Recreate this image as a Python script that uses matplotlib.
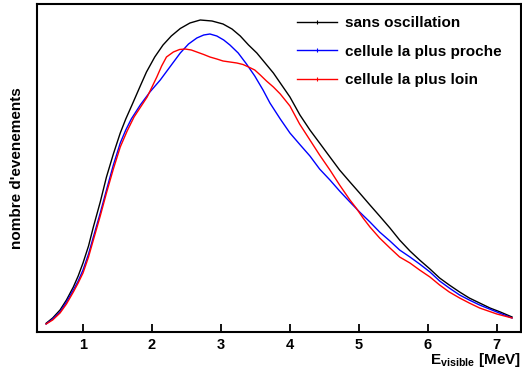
import matplotlib
matplotlib.use("Agg")
import matplotlib.pyplot as plt
from matplotlib.lines import Line2D

plt.rcParams["font.family"] = ["Liberation Sans", "DejaVu Sans"]
plt.rcParams["font.weight"] = "bold"
plt.rcParams["mathtext.fontset"] = "custom"
plt.rcParams["mathtext.bf"] = "Liberation Sans:bold"
plt.rcParams["mathtext.rm"] = "Liberation Sans:bold"

# visible energy spectra (arbitrary units)
e_sans = [0.465, 0.56, 0.667, 0.76, 0.86, 0.93, 1.0, 1.08, 1.15, 1.25, 1.34, 1.44,
          1.54, 1.62, 1.71, 1.83, 1.92, 2.04, 2.16, 2.28, 2.41, 2.55, 2.70, 2.87,
          3.03, 3.16, 3.28, 3.40, 3.52, 3.64, 3.76, 3.88, 4.0, 4.145, 4.29, 4.43,
          4.58, 4.72, 4.87, 5.01, 5.16, 5.3, 5.45, 5.59, 5.74, 5.88, 6.03, 6.17,
          6.31, 6.46, 6.6, 6.75, 6.9, 7.05, 7.22]
n_sans = [8.7, 14, 22, 32, 45, 56, 69, 86, 105, 130, 155, 178,
          199, 213, 227, 246, 260, 275, 287, 296, 303.5, 309, 312, 311,
          308, 303, 296, 287, 279, 269, 259, 247, 235, 217, 202, 189,
          175, 162, 150, 139, 127, 116, 104, 92, 81, 72, 63, 54,
          47, 40, 34, 29, 24, 20, 15]

e_proche = [0.465, 0.56, 0.667, 0.76, 0.86, 0.93, 1.0, 1.08, 1.15, 1.25, 1.34, 1.44,
            1.54, 1.62, 1.70, 1.83, 1.97, 2.12, 2.27, 2.41, 2.53, 2.65, 2.75, 2.84,
            2.94, 3.04, 3.13, 3.25, 3.37, 3.49, 3.61, 3.71, 3.86, 4.0, 4.15, 4.29,
            4.43, 4.58, 4.72, 4.87, 5.01, 5.16, 5.3, 5.45, 5.59, 5.74, 5.88, 6.03,
            6.17, 6.31, 6.46, 6.6, 6.75, 7.0, 7.22]
n_proche = [8, 13, 20, 30, 42, 51, 62, 78, 95, 119, 142, 167,
            189, 202, 213, 227, 240, 252, 266, 279, 288, 294, 297, 298,
            296, 292, 287, 279, 268, 256, 242, 229, 213, 199, 187, 176,
            163, 152, 141, 130, 120, 110, 100, 91, 82, 75, 68, 60,
            51, 44, 37, 32, 27, 20, 14]

e_loin = [0.465, 0.56, 0.667, 0.76, 0.86, 0.93, 1.0, 1.08, 1.15, 1.25, 1.34, 1.44,
          1.54, 1.64, 1.74, 1.93, 2.07, 2.14, 2.21, 2.31, 2.40, 2.48, 2.57, 2.65,
          2.75, 2.84, 2.94, 3.03, 3.13, 3.23, 3.32, 3.40, 3.49, 3.57, 3.66, 3.76,
          3.86, 4.0, 4.14, 4.29, 4.43, 4.58, 4.72, 4.87, 4.96, 5.06, 5.16, 5.3,
          5.45, 5.59, 5.74, 5.88, 6.03, 6.17, 6.31, 6.46, 6.6, 6.75, 7.0, 7.22]
n_loin = [8, 12, 19, 28, 40, 49, 59, 75, 92, 116, 139, 163,
          185, 201, 215, 235, 255, 266, 275, 280, 282.5, 283, 282, 280,
          277.5, 275, 273, 271, 270, 269, 267.5, 265, 262, 257, 251, 245,
          238, 226, 208, 192, 177, 162, 147, 132, 124, 114, 105, 94,
          84, 75, 69, 62, 55, 47, 40, 34, 29, 24, 18, 14]

labels = ["sans oscillation", "cellule la plus proche", "cellule la plus loin"]
colors = ["black", "blue", "red"]
e_ticks = [1, 2, 3, 4, 5, 6, 7]

fig = plt.figure(figsize=(5.22, 3.74), dpi=100)
ax = fig.add_axes([37 / 522, 42 / 374, 484 / 522, 328 / 374])

for e, n, c in zip([e_sans, e_proche, e_loin], [n_sans, n_proche, n_loin], colors):
    ax.plot(e, n, color=c, lw=1.0)

ax.set_xlim(0.333, 7.35)
ax.set_ylim(0, 328)
ax.set_xticks(e_ticks)
ax.set_xticklabels([str(t) for t in e_ticks], fontsize=10.5, fontweight="bold")
ax.set_yticks([])
ax.tick_params(axis="x", direction="in", length=6, width=1.3, pad=4)
for s in ax.spines.values():
    s.set_linewidth(1.5)

ax.set_ylabel("nombre d'evenements", fontsize=11, fontweight="bold", labelpad=9)
fig.text(521 / 522, 1 - 364 / 374, r"$\mathbf{E}_{\mathbf{visible}}$ [MeV]",
         ha="right", va="baseline", fontsize=11, fontweight="bold")

handles = [Line2D([], [], color=c, lw=1.0, marker="|", markersize=3,
                  markeredgewidth=0.8) for c in colors]
ax.legend(handles, labels, loc="upper left", bbox_to_anchor=(0.537, 0.962),
          frameon=False, numpoints=1, handlelength=2.6,
          handletextpad=0.52, labelspacing=0.93, borderpad=0, borderaxespad=0,
          prop={"weight": "bold", "size": 11})

fig.savefig("out.png", dpi=100)
